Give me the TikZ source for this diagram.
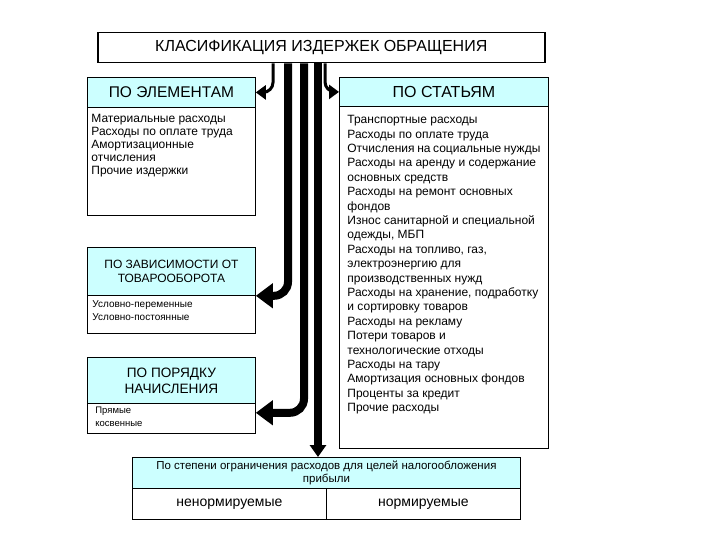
\documentclass[tikz,border=0pt]{standalone}
\usepackage{fontspec}
\setmainfont{Liberation Sans}
\usetikzlibrary{arrows.meta}
\definecolor{headcyan}{RGB}{204,255,255}
\tikzset{
    box/.style={draw, anchor=north west, inner sep=0pt, line width=0.8pt},
    head/.style={box, fill=headcyan, align=center},
    body/.style={box, inner xsep=4pt, inner ysep=5pt},
    trunk/.style={line width=8pt, rounded corners=14pt, -{Triangle[length=17pt,width=24pt]}},
    pointer/.style={line width=3pt, rounded corners=10pt, -{Triangle[length=10pt,width=14pt]}},
}
\newcommand{\cellbox}[3]{\parbox[t][#2][t]{#1}{#3}}

\begin{document}
\begin{tikzpicture}[x=1pt, y=-1pt]
\useasboundingbox (0,0) rectangle (720,540);

\node[box, line width=1.5pt, minimum width=447pt, minimum height=30pt,
      font=\fontsize{16}{19}\selectfont] (title) at (97,32) {КЛАСИФИКАЦИЯ ИЗДЕРЖЕК ОБРАЩЕНИЯ};

\node[head, minimum width=168pt, minimum height=30pt, font=\fontsize{15.5}{18}\selectfont]
    (hElem) at (87,77) {ПО ЭЛЕМЕНТАМ};
\node[body, inner ysep=7pt, font=\fontsize{12}{13}\selectfont] (bElem) at (87,107)
    {\cellbox{160pt}{94pt}{Материальные расходы\\ Расходы по оплате труда\\ Амортизационные\\ отчисления\\ Прочие издержки}};

\node[head, minimum width=168pt, minimum height=48pt, font=\fontsize{12}{14}\selectfont]
    (hZav) at (87,247) {ПО ЗАВИСИМОСТИ ОТ\\ ТОВАРООБОРОТА};
\node[body, inner xsep=5pt, font=\fontsize{10}{13}\selectfont] (bZav) at (87,295)
    {\cellbox{158pt}{28pt}{Условно-переменные\\ Условно-постоянные}};

\node[head, minimum width=168pt, minimum height=46pt, font=\fontsize{13.6}{16}\selectfont]
    (hPor) at (87,357) {ПО ПОРЯДКУ\\ НАЧИСЛЕНИЯ};
\node[body, inner xsep=8pt, inner ysep=4pt, font=\fontsize{9.5}{13}\selectfont] (bPor) at (87,403)
    {\cellbox{152pt}{22pt}{Прямые\\ косвенные}};

\node[head, minimum width=209pt, minimum height=29pt, font=\fontsize{16}{19}\selectfont]
    (hStat) at (339,77) {ПО СТАТЬЯМ};
\node[body, inner xsep=8pt, inner ysep=9pt, font=\fontsize{12}{14.4}\selectfont] (bStat) at (339,106)
    {\cellbox{193pt}{324pt}{Транспортные расходы\\ Расходы по оплате труда\\ Отчисления на социальные нужды\\
     Расходы на аренду и содержание\\ основных средств\\ Расходы на ремонт основных\\ фондов\\
     Износ санитарной и специальной\\ одежды, МБП\\ Расходы на топливо, газ,\\ электроэнергию для\\
     производственных нужд\\ Расходы на хранение, подработку\\ и сортировку товаров\\ Расходы на рекламу\\
     Потери товаров и\\ технологические отходы\\ Расходы на тару\\ Амортизация основных фондов\\
     Проценты за кредит\\ Прочие расходы}};

\node[head, minimum width=388pt, minimum height=31pt, font=\fontsize{11.5}{13}\selectfont]
    (hNal) at (132,457) {По степени ограничения расходов для целей налогообложения\\ прибыли};
\node[box, minimum width=194pt, minimum height=31pt, font=\fontsize{14}{16}\selectfont]
    (bNen) at (132,488) {ненормируемые};
\node[box, minimum width=194pt, minimum height=31pt, font=\fontsize{14}{16}\selectfont]
    (bNorm) at (326,488) {нормируемые};

\coordinate (t1) at (273,0);
\coordinate (t2) at (325,0);
\coordinate (b1) at (288,0);
\coordinate (b2) at (304,0);
\coordinate (b3) at (318,0);

\draw[pointer] (t1 |- title.south) |- (hElem.east);
\draw[pointer] (t2 |- title.south) |- (hStat.west);
\draw[trunk] (b1 |- title.south) |- (hZav.south east);
\draw[trunk] (b2 |- title.south) |- ([yshift=-9pt]hPor.south east);
\draw[trunk, -{Triangle[length=12pt,width=16pt]}] (b3 |- title.south) -- (b3 |- hNal.north);

\end{tikzpicture}
\end{document}
